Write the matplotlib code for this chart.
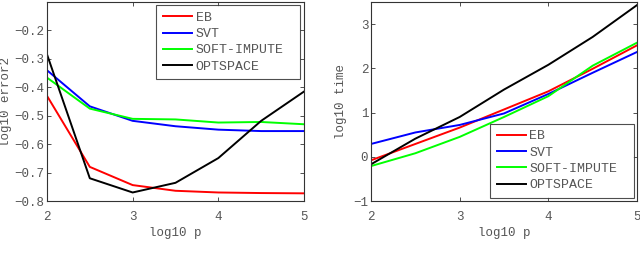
import numpy as np
import matplotlib
matplotlib.use('Agg')
import matplotlib.pyplot as plt

plt.rcParams['font.family'] = ['Liberation Mono', 'DejaVu Sans Mono']

# log10 p
p = [2, 2.5, 3, 3.5, 4, 4.5, 5]
methods = ['EB', 'SVT', 'SOFT-IMPUTE', 'OPTSPACE']
colors = ['#ff0000', '#0000ff', '#00ff00', '#000000']

# log10 error2
err_eb = [-0.430, -0.680, -0.744, -0.764, -0.770, -0.772, -0.773]
err_svt = [-0.340, -0.467, -0.518, -0.537, -0.549, -0.554, -0.554]
err_soft = [-0.366, -0.475, -0.511, -0.513, -0.524, -0.522, -0.530]
err_opt = [-0.284, -0.720, -0.770, -0.736, -0.649, -0.518, -0.415]

# log10 time
time_eb = [-0.08, 0.29, 0.66, 1.07, 1.48, 1.99, 2.52]
time_svt = [0.29, 0.55, 0.72, 0.98, 1.42, 1.90, 2.37]
time_soft = [-0.21, 0.08, 0.45, 0.90, 1.37, 2.06, 2.58]
time_opt = [-0.17, 0.41, 0.90, 1.52, 2.08, 2.71, 3.43]

fig = plt.figure(figsize=(6.4, 2.58), dpi=100)
ax1 = fig.add_axes([0.0734, 0.2209, 0.4016, 0.7713])
ax2 = fig.add_axes([0.5797, 0.2209, 0.4156, 0.7713])

grey = '#555555'


def style(ax):
    ax.tick_params(direction='in', top=True, right=True, length=3,
                   labelsize=9, labelcolor=grey, color='#333333', width=0.6)
    ax.tick_params(axis='x', pad=7)
    ax.tick_params(axis='y', pad=2)
    for s in ax.spines.values():
        s.set_linewidth(0.8)
        s.set_color('#333333')
    ax.set_xlim(2, 5)
    ax.set_xticks([2, 3, 4, 5])
    ax.set_xlabel('log10 p', fontsize=9, color=grey, labelpad=3)


def legend(ax, loc, anchor):
    # matlab style box, extra room on the right
    leg = ax.legend(loc=loc, bbox_to_anchor=anchor, mode='expand',
                    fontsize=9.5, fancybox=False, handlelength=2.2,
                    handletextpad=0.3, borderpad=0.5, labelspacing=0.31,
                    borderaxespad=0)
    leg.get_frame().set_edgecolor('#222222')
    leg.get_frame().set_linewidth(0.8)
    for t in leg.get_texts():
        t.set_color(grey)


for y, c, m in zip([err_eb, err_svt, err_soft, err_opt], colors, methods):
    ax1.plot(p, y, color=c, lw=1.4, label=m)
style(ax1)
ax1.set_ylim(-0.8, -0.1)
ax1.set_yticks([-0.8, -0.7, -0.6, -0.5, -0.4, -0.3, -0.2])
ax1.set_ylabel('log10 error2', fontsize=9, color=grey)
ax1.yaxis.set_label_coords(-0.137, 0.5)
legend(ax1, 'upper left', (0.424, 0.0, 0.560, 0.985))

for y, c, m in zip([time_eb, time_svt, time_soft, time_opt], colors, methods):
    ax2.plot(p, y, color=c, lw=1.4, label=m)
style(ax2)
ax2.set_ylim(-1, 3.5)
ax2.set_yticks([-1, 0, 1, 2, 3])
ax2.set_ylabel('log10 time', fontsize=9, color=grey)
ax2.yaxis.set_label_coords(-0.09, 0.5)
legend(ax2, 'lower left', (0.447, 0.015, 0.541, 0.5))

fig.savefig('out.png', dpi=100)
